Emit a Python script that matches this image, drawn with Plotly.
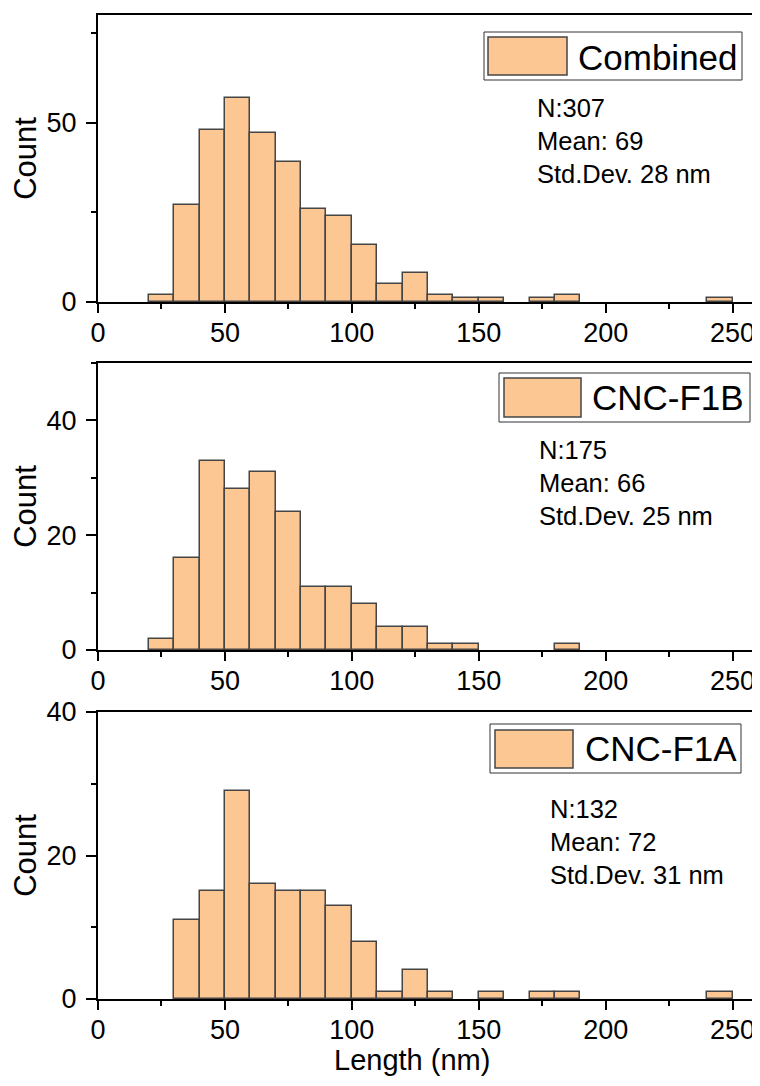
import plotly.graph_objects as go

# ---- data ----
bin_left = [20, 30, 40, 50, 60, 70, 80, 90, 100, 110, 120, 130, 140, 150,
            160, 170, 180, 190, 200, 210, 220, 230, 240]
bin_width = 10
combined = [2, 27, 48, 57, 47, 39, 26, 24, 16, 5, 8, 2, 1, 1, 0, 1, 2, 0, 0, 0, 0, 0, 1]
cnc_f1b = [2, 16, 33, 28, 31, 24, 11, 11, 8, 4, 4, 1, 1, 0, 0, 0, 1, 0, 0, 0, 0, 0, 0]
cnc_f1a = [0, 11, 15, 29, 16, 15, 15, 13, 8, 1, 4, 1, 0, 1, 0, 1, 1, 0, 0, 0, 0, 0, 1]
series_names = ["Combined", "CNC-F1B", "CNC-F1A"]
stats_text = [
    "N:307<br>Mean: 69<br>Std.Dev. 28 nm",
    "N:175<br>Mean: 66<br>Std.Dev. 25 nm",
    "N:132<br>Mean: 72<br>Std.Dev. 31 nm",
]
y_ranges = [[0, 80], [0, 50], [0, 40]]
y_dticks = [50, 20, 20]
x_ticks = [0, 50, 100, 150, 200, 250]

# ---- style ----
FONT = "Arial, Liberation Sans, sans-serif"
FILL = "#FCC793"
EDGE = "#454545"
OFF = 8  # browser body margin
W, H = 752, 1070
L, R, T = 90, 2, 7
PW, PH = W - L - R, 984
B = H - T - PH


def px_x(px):
    return (px - OFF - L) / PW


def px_y(py):
    return (H - B - (py - OFF)) / PH


# panel pixel extents in the page (top, bottom)
panels = [(15, 302), (363, 650), (712, 999)]

fig = go.Figure()
all_counts = [combined, cnc_f1b, cnc_f1a]
centers = [b + bin_width / 2 for b in bin_left]
for i, counts in enumerate(all_counts):
    fig.add_trace(go.Bar(
        x=centers, y=counts, width=bin_width,
        marker=dict(color=FILL,
                    line=dict(color=EDGE, width=[1.5 if c > 0 else 0 for c in counts])),
        name=series_names[i], showlegend=False,
        xaxis="x" if i == 0 else f"x{i+1}",
        yaxis="y" if i == 0 else f"y{i+1}",
    ))

layout = dict(
    width=W, height=H,
    margin=dict(l=L, r=R, t=T, b=B),
    paper_bgcolor="white", plot_bgcolor="white",
    font=dict(family=FONT, color="black"),
    bargap=0,
    showlegend=False,
)

for i, (ptop, pbot) in enumerate(panels):
    sx = "" if i == 0 else str(i + 1)
    layout[f"xaxis{sx}"] = dict(
        domain=[0, 1], anchor=f"y{sx}", range=[0, 260],
        tickvals=x_ticks, ticks="outside", ticklen=9, tickwidth=2,
        tickcolor="black",
        minor=dict(dtick=25, tick0=0, ticks="outside", ticklen=5,
                   tickwidth=2, tickcolor="black", showgrid=False),
        showline=True, linewidth=2, linecolor="black", mirror=True,
        showgrid=False, zeroline=False, automargin=False,
        ticklabelstandoff=-3,
        tickfont=dict(size=27, family=FONT, color="black"),
    )
    layout[f"yaxis{sx}"] = dict(
        domain=[px_y(pbot), px_y(ptop)], anchor=f"x{sx}",
        range=y_ranges[i], dtick=y_dticks[i], tick0=0,
        ticks="outside", ticklen=10, tickwidth=2, tickcolor="black",
        minor=dict(dtick=y_dticks[i] / 2, tick0=0, ticks="outside", ticklen=5,
                   tickwidth=2, tickcolor="black", showgrid=False),
        showline=True, linewidth=2, linecolor="black", mirror=True,
        showgrid=False, zeroline=False, automargin=False,
        ticklabelstandoff=4,
        tickfont=dict(size=27, family=FONT, color="black"),
        title=dict(text="Count", font=dict(size=31, family=FONT, color="black"),
                   standoff=2),
    )

fig.update_layout(**layout)

# manual legends (large swatch boxes) and stats text
legend_boxes = [  # box x0,x1,y0,y1 ; swatch x0,x1,y0,y1 ; text left, text center y
    ((484, 742, 32, 80), (488, 567, 37, 75), 576, 57),
    ((499, 750, 373, 422), (504, 581, 378, 417), 590, 397),
    ((490, 741, 724, 773), (495, 573, 730, 768), 583, 749),
]
stats_pos = [(535, 141), (537, 483), (548, 842)]

shapes = []
annotations = []
for i in range(3):
    (bx0, bx1, by0, by1), (sx0, sx1, sy0, sy1), tx, ty = legend_boxes[i]
    shapes.append(dict(type="rect", xref="paper", yref="paper",
                       x0=px_x(bx0), x1=px_x(bx1), y0=px_y(by1), y1=px_y(by0),
                       line=dict(color="#333333", width=1), fillcolor="white",
                       layer="above"))
    shapes.append(dict(type="rect", xref="paper", yref="paper",
                       x0=px_x(sx0), x1=px_x(sx1), y0=px_y(sy1), y1=px_y(sy0),
                       line=dict(color=EDGE, width=1.5), fillcolor=FILL,
                       layer="above"))
    annotations.append(dict(text=series_names[i], xref="paper", yref="paper",
                            x=px_x(tx), y=px_y(ty), xanchor="left", yanchor="middle",
                            showarrow=False,
                            font=dict(size=35, family=FONT, color="black")))
    ax, ay = stats_pos[i]
    annotations.append(dict(text=stats_text[i], xref="paper", yref="paper",
                            x=px_x(ax), y=px_y(ay), xanchor="left", yanchor="middle",
                            align="left", showarrow=False,
                            font=dict(size=25.5, family=FONT, color="black")))

annotations.append(dict(text="Length (nm)", xref="paper", yref="paper",
                        x=px_x(412), y=px_y(1077), xanchor="center", yanchor="bottom",
                        borderpad=0, showarrow=False,
                        font=dict(size=29, family=FONT, color="black")))

fig.update_layout(shapes=shapes, annotations=annotations)
fig.write_html("out.html")
